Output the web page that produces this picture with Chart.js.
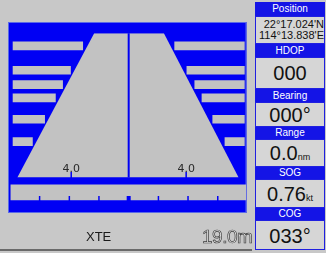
<!DOCTYPE html>
<html>
<head>
<meta charset="utf-8">
<script src="https://cdn.jsdelivr.net/npm/chart.js@4.4.1/dist/chart.umd.min.js"></script>
<style>
  body { margin: 0; width: 326px; height: 253px; overflow: hidden; background: #c8c8c8;
         font-family: "Liberation Sans", Arial, sans-serif; position: relative; }
  #wrap { position: absolute; left: 0; top: 0; width: 252px; height: 251px;
          border-bottom: 2px solid #6a6a6a; box-sizing: border-box; }
  #xte { position: absolute; left: 86px; top: 229px; font-size: 13px; color: #1a1a1a; }
  #dist { position: absolute; left: 202px; top: 226px; font-size: 19px; color: #e2e2e2;
          -webkit-text-stroke: 0.7px #3a3a3a; letter-spacing: -0.5px; }
  .hdr { position: absolute; left: 255px; width: 70px; background: #1414e6; color: #fff;
         font-size: 10px; text-align: center; box-sizing: border-box; border: 1px solid #1414e6; }
  .box { position: absolute; left: 255px; width: 70px; background: #d6d6d6; color: #111;
         box-sizing: border-box; border: 1px solid #2020e0; text-align: center; }
  .big { font-size: 20px; }
  .unit { font-size: 9px; }
</style>
</head>
<body>
<div id="wrap"><canvas id="xteChart"></canvas></div>
<div id="xte">XTE</div>
<div id="dist">19.0m</div>

<div class="hdr" style="top:2px;height:14px;line-height:12px">Position</div>
<div class="box" style="top:16px;height:28px;font-size:11px;line-height:11px;padding-top:2px;text-align:right;padding-right:0">22°17.024'N<br>114°13.838'E</div>
<div class="hdr" style="top:44px;height:13px;line-height:11px">HDOP</div>
<div class="box big" style="top:57px;height:32px;line-height:30px">000</div>
<div class="hdr" style="top:89px;height:13px;line-height:11px">Bearing</div>
<div class="box big" style="top:102px;height:25px;line-height:24px">000°</div>
<div class="hdr" style="top:127px;height:12px;line-height:10px">Range</div>
<div class="box big" style="top:139px;height:28px;line-height:27px">0.0<span class="unit">nm</span></div>
<div class="hdr" style="top:167px;height:12px;line-height:10px">SOG</div>
<div class="box big" style="top:179px;height:29px;line-height:28px">0.76<span class="unit">kt</span></div>
<div class="hdr" style="top:208px;height:12px;line-height:10px">COG</div>
<div class="box big" style="top:220px;height:30px;line-height:30px">033°</div>

<script>
// road trapezoid (lateral offset vs. row)
const roadRows = [2, 164];
const roadLeft = [-2.4, -7.75];
const roadRight = [2.45, 7.65];

// lane marker bars on each side
const markRows = [16, 43.5, 59.5, 74.5, 98.5, 123.5];
const leftMarkEnds = [-3.2, -4.05, -4.6, -5.1, -5.85, -6.7];
const rightMarkStarts = [3.2, 4.05, 4.6, 5.1, 5.85, 6.7];
const markOuter = 8.05;

// scale labels
const scaleLabelX = [-4, 4];
const scaleLabels = ['4.0', '4.0'];
const scaleLabelRow = 154;
const scaleTickRow = 161;

// ruler at the bottom
const rulerRow = 180.5;
const rulerSpan = [-8.2, 8.15];
const rulerTicks = [-6.2, -4.13, -2.07, 0, 2.07, 4.13, 6.2];
const rulerTickRow = 187.5;

const BLUE = '#0000f4';
const GREY = '#c2c2c2';

const bluePlate = {
  id: 'bluePlate',
  beforeDatasetsDraw(chart) {
    const a = chart.chartArea, c = chart.ctx;
    c.save();
    c.fillStyle = BLUE;
    c.fillRect(a.left, a.top, a.right - a.left, a.bottom - a.top);
    c.strokeStyle = '#5a6ae8';
    c.strokeRect(a.left + 0.5, a.top + 0.5, a.right - a.left - 1, a.bottom - a.top - 1);
    c.restore();
  }
};

const scaleText = {
  id: 'scaleText',
  afterDatasetsDraw(chart) {
    const c = chart.ctx, xs = chart.scales.x, ys = chart.scales.y;
    c.save();
    c.fillStyle = '#2a2a2a';
    c.font = '11px "DejaVu Sans", sans-serif';
    c.textAlign = 'center';
    c.textBaseline = 'middle';
    scaleLabels.forEach((t, i) => {
      c.fillText(t, xs.getPixelForValue(scaleLabelX[i]), ys.getPixelForValue(scaleLabelRow));
    });
    c.restore();
  }
};

const ctx = document.getElementById('xteChart').getContext('2d');
const xteChart = new Chart(ctx, {
  type: 'bar',
  data: {
    datasets: [
      {
        type: 'line', indexAxis: 'y', order: 9,
        data: roadRows.map((r, i) => ({x: roadLeft[i], y: r})),
        borderWidth: 0, pointRadius: 0, fill: false
      },
      {
        type: 'line', indexAxis: 'y', order: 8,
        data: roadRows.map((r, i) => ({x: roadRight[i], y: r})),
        borderWidth: 0, pointRadius: 0, fill: 0, backgroundColor: GREY
      },
      {
        type: 'bar', indexAxis: 'y', order: 6,
        data: markRows.map((r, i) => ({y: r, x: [-markOuter, leftMarkEnds[i]]})),
        backgroundColor: GREY, barThickness: 8, grouped: false
      },
      {
        type: 'bar', indexAxis: 'y', order: 6,
        data: markRows.map((r, i) => ({y: r, x: [rightMarkStarts[i], markOuter]})),
        backgroundColor: GREY, barThickness: 8, grouped: false
      },
      {
        type: 'line', indexAxis: 'y', order: 4,
        data: [{x: 0, y: roadRows[0]}, {x: 0, y: roadRows[1]}],
        borderColor: BLUE, borderWidth: 2, pointRadius: 0, fill: false
      },
      {
        type: 'bar', indexAxis: 'y', order: 5,
        data: [{y: rulerRow, x: rulerSpan}],
        backgroundColor: GREY, barThickness: 15, grouped: false
      },
      {
        type: 'line', indexAxis: 'y', order: 3, showLine: false,
        data: rulerTicks.map(t => ({x: t, y: rulerTickRow})),
        pointStyle: 'line', rotation: 90, pointRadius: 2.5,
        borderColor: BLUE,
        pointBorderWidth: c => (c.raw && c.raw.x === 0 ? 4 : 1.5)
      },
      {
        type: 'line', indexAxis: 'y', order: 3, showLine: false,
        data: scaleLabelX.map(t => ({x: t, y: scaleTickRow})),
        pointStyle: 'line', rotation: 90, pointRadius: 3,
        borderColor: BLUE, pointBorderWidth: 1.5
      }
    ]
  },
  options: {
    indexAxis: 'y',
    responsive: true,
    maintainAspectRatio: false,
    animation: false,
    events: [],
    layout: { padding: { left: 8, right: 4, top: 22, bottom: 36 } },
    scales: {
      x: { type: 'linear', min: -8.4, max: 8.2, display: false },
      y: { type: 'linear', min: 0, max: 193, reverse: true, display: false }
    },
    plugins: { legend: { display: false }, tooltip: { enabled: false } }
  },
  plugins: [bluePlate, scaleText]
});
</script>
</body>
</html>
